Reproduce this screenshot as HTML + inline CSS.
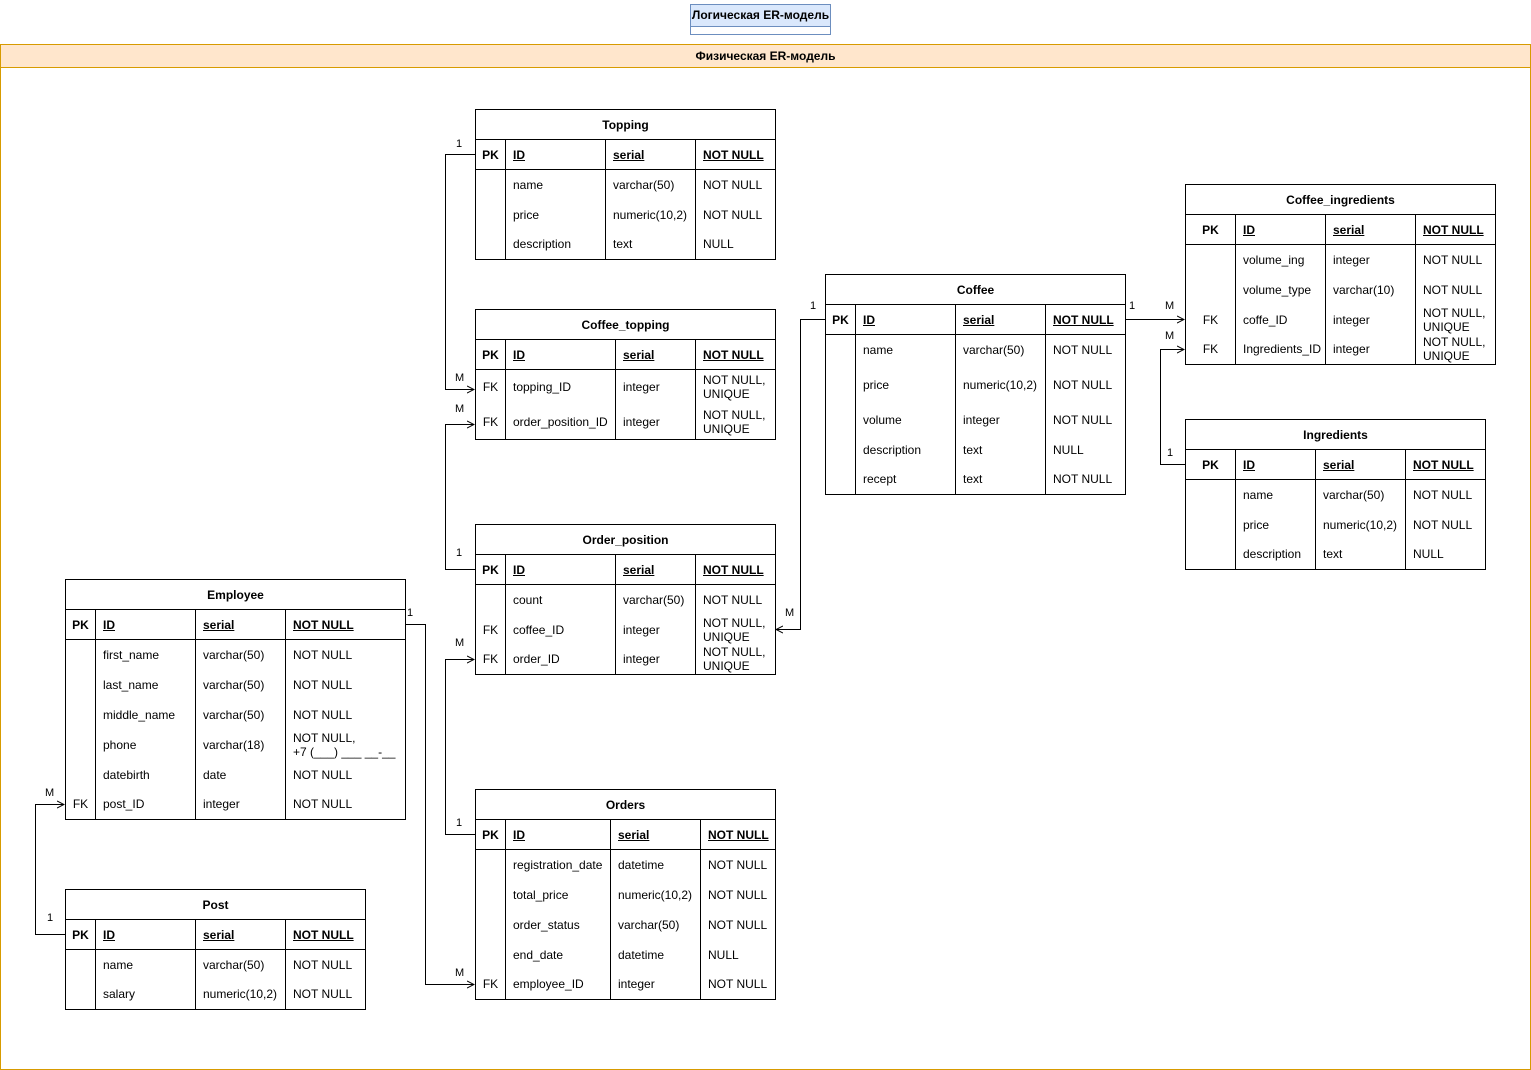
<!DOCTYPE html>
<html><head><meta charset="utf-8"><style>
body{margin:0;width:1531px;height:1070px;position:relative;background:#fff;font-family:"Liberation Sans",Arial,sans-serif;font-size:12px;color:#000;overflow:hidden}
.abs{position:absolute}
table{position:absolute;border-collapse:collapse;table-layout:fixed;border:1px solid #000;background:#fff}
td{padding:0 0 0 7px;white-space:nowrap;line-height:14px;vertical-align:middle;overflow:hidden}
td+td{border-left:1px solid #000}
td.k{text-align:center;padding:0}
tr.t td{text-align:center;font-weight:bold;border-bottom:1px solid #000;padding:0}
tr.p td{border-bottom:1px solid #000;font-weight:bold}
tr.p td u{font-weight:bold}
.lbl{position:absolute;font-size:11px}
</style></head><body>
<div class="abs" style="left:690px;top:4px;width:139px;height:29px;border:1px solid #6c8ebf;background:#fff"></div>
<div class="abs" style="left:690px;top:4px;width:139px;height:21px;border:1px solid #6c8ebf;background:#dae8fc;text-align:center;line-height:21px;font-weight:bold">Логическая ER-модель</div>
<div class="abs" style="left:0;top:44px;width:1529px;height:1024px;border:1px solid #d79b00"></div>
<div class="abs" style="left:0;top:44px;width:1529px;height:22px;border:1px solid #d79b00;background:#ffe6cc;text-align:center;line-height:22px;font-weight:bold">Физическая ER-модель</div>

<svg class="abs" style="left:0;top:0" width="1531" height="1070">
<defs><marker id="a" markerWidth="8" markerHeight="8" refX="7" refY="4" orient="auto" markerUnits="userSpaceOnUse"><path d="M0,0.5 L7,4 L0,7.5" fill="none" stroke="#000" stroke-width="1"/></marker></defs>
<g fill="none" stroke="#000" stroke-width="1">
<polyline points="475,154.5 445.5,154.5 445.5,389.5 474,389.5" marker-end="url(#a)"/>
<polyline points="475,569.5 445.5,569.5 445.5,424.5 474,424.5" marker-end="url(#a)"/>
<polyline points="825,319.5 800.5,319.5 800.5,629.5 776,629.5" marker-end="url(#a)"/>
<polyline points="1125,319.5 1184,319.5" marker-end="url(#a)"/>
<polyline points="1185,464.5 1160.5,464.5 1160.5,349.5 1184,349.5" marker-end="url(#a)"/>
<polyline points="405,624.5 425.5,624.5 425.5,984.5 474,984.5" marker-end="url(#a)"/>
<polyline points="475,834.5 445.5,834.5 445.5,659.5 474,659.5" marker-end="url(#a)"/>
<polyline points="65,934.5 35.5,934.5 35.5,804.5 64,804.5" marker-end="url(#a)"/>
</g></svg>
<div class="lbl" style="left:456px;top:138px">1</div><div class="lbl" style="left:455px;top:372px">M</div>
<div class="lbl" style="left:456px;top:547px">1</div><div class="lbl" style="left:455px;top:403px">M</div>
<div class="lbl" style="left:810px;top:300px">1</div><div class="lbl" style="left:785px;top:607px">M</div>
<div class="lbl" style="left:1129px;top:300px">1</div><div class="lbl" style="left:1165px;top:300px">M</div>
<div class="lbl" style="left:1167px;top:447px">1</div><div class="lbl" style="left:1165px;top:330px">M</div>
<div class="lbl" style="left:407px;top:607px">1</div><div class="lbl" style="left:455px;top:967px">M</div>
<div class="lbl" style="left:456px;top:817px">1</div><div class="lbl" style="left:455px;top:637px">M</div>
<div class="lbl" style="left:47px;top:912px">1</div><div class="lbl" style="left:45px;top:787px">M</div>

<table style="left:475px;top:109px;width:301px"><colgroup><col width="30"><col width="100"><col width="90"><col width="80"></colgroup>
<tr class="t" style="height:30px"><td colspan="4">Topping</td></tr>
<tr class="p" style="height:30px"><td class="k">PK</td><td><u>ID</u></td><td><u>serial</u></td><td><u>NOT NULL</u></td></tr>
<tr style="height:30px"><td class="k"></td><td>name</td><td>varchar(50)</td><td>NOT NULL</td></tr>
<tr style="height:30px"><td class="k"></td><td>price</td><td>numeric(10,2)</td><td>NOT NULL</td></tr>
<tr style="height:30px"><td class="k"></td><td>description</td><td>text</td><td>NULL</td></tr></table>

<table style="left:475px;top:309px;width:301px"><colgroup><col width="30"><col width="110"><col width="80"><col width="80"></colgroup>
<tr class="t" style="height:30px"><td colspan="4">Coffee_topping</td></tr>
<tr class="p" style="height:30px"><td class="k">PK</td><td><u>ID</u></td><td><u>serial</u></td><td><u>NOT NULL</u></td></tr>
<tr style="height:35px"><td class="k">FK</td><td>topping_ID</td><td>integer</td><td>NOT NULL,<br>UNIQUE</td></tr>
<tr style="height:35px"><td class="k">FK</td><td>order_position_ID</td><td>integer</td><td>NOT NULL,<br>UNIQUE</td></tr></table>

<table style="left:475px;top:524px;width:301px"><colgroup><col width="30"><col width="110"><col width="80"><col width="80"></colgroup>
<tr class="t" style="height:30px"><td colspan="4">Order_position</td></tr>
<tr class="p" style="height:30px"><td class="k">PK</td><td><u>ID</u></td><td><u>serial</u></td><td><u>NOT NULL</u></td></tr>
<tr style="height:30px"><td class="k"></td><td>count</td><td>varchar(50)</td><td>NOT NULL</td></tr>
<tr style="height:30px"><td class="k">FK</td><td>coffee_ID</td><td>integer</td><td>NOT NULL,<br>UNIQUE</td></tr>
<tr style="height:30px"><td class="k">FK</td><td>order_ID</td><td>integer</td><td>NOT NULL,<br>UNIQUE</td></tr></table>

<table style="left:475px;top:789px;width:301px"><colgroup><col width="30"><col width="105"><col width="90"><col width="75"></colgroup>
<tr class="t" style="height:30px"><td colspan="4">Orders</td></tr>
<tr class="p" style="height:30px"><td class="k">PK</td><td><u>ID</u></td><td><u>serial</u></td><td><u>NOT NULL</u></td></tr>
<tr style="height:30px"><td class="k"></td><td>registration_date</td><td>datetime</td><td>NOT NULL</td></tr>
<tr style="height:30px"><td class="k"></td><td>total_price</td><td>numeric(10,2)</td><td>NOT NULL</td></tr>
<tr style="height:30px"><td class="k"></td><td>order_status</td><td>varchar(50)</td><td>NOT NULL</td></tr>
<tr style="height:30px"><td class="k"></td><td>end_date</td><td>datetime</td><td>NULL</td></tr>
<tr style="height:30px"><td class="k">FK</td><td>employee_ID</td><td>integer</td><td>NOT NULL</td></tr></table>

<table style="left:65px;top:579px;width:341px"><colgroup><col width="30"><col width="100"><col width="90"><col width="120"></colgroup>
<tr class="t" style="height:30px"><td colspan="4">Employee</td></tr>
<tr class="p" style="height:30px"><td class="k">PK</td><td><u>ID</u></td><td><u>serial</u></td><td><u>NOT NULL</u></td></tr>
<tr style="height:30px"><td class="k"></td><td>first_name</td><td>varchar(50)</td><td>NOT NULL</td></tr>
<tr style="height:30px"><td class="k"></td><td>last_name</td><td>varchar(50)</td><td>NOT NULL</td></tr>
<tr style="height:30px"><td class="k"></td><td>middle_name</td><td>varchar(50)</td><td>NOT NULL</td></tr>
<tr style="height:30px"><td class="k"></td><td>phone</td><td>varchar(18)</td><td>NOT NULL,<br>+7 (___) ___ __-__</td></tr>
<tr style="height:30px"><td class="k"></td><td>datebirth</td><td>date</td><td>NOT NULL</td></tr>
<tr style="height:30px"><td class="k">FK</td><td>post_ID</td><td>integer</td><td>NOT NULL</td></tr></table>

<table style="left:65px;top:889px;width:301px"><colgroup><col width="30"><col width="100"><col width="90"><col width="80"></colgroup>
<tr class="t" style="height:30px"><td colspan="4">Post</td></tr>
<tr class="p" style="height:30px"><td class="k">PK</td><td><u>ID</u></td><td><u>serial</u></td><td><u>NOT NULL</u></td></tr>
<tr style="height:30px"><td class="k"></td><td>name</td><td>varchar(50)</td><td>NOT NULL</td></tr>
<tr style="height:30px"><td class="k"></td><td>salary</td><td>numeric(10,2)</td><td>NOT NULL</td></tr></table>

<table style="left:825px;top:274px;width:301px"><colgroup><col width="30"><col width="100"><col width="90"><col width="80"></colgroup>
<tr class="t" style="height:30px"><td colspan="4">Coffee</td></tr>
<tr class="p" style="height:30px"><td class="k">PK</td><td><u>ID</u></td><td><u>serial</u></td><td><u>NOT NULL</u></td></tr>
<tr style="height:30px"><td class="k"></td><td>name</td><td>varchar(50)</td><td>NOT NULL</td></tr>
<tr style="height:40px"><td class="k"></td><td>price</td><td>numeric(10,2)</td><td>NOT NULL</td></tr>
<tr style="height:30px"><td class="k"></td><td>volume</td><td>integer</td><td>NOT NULL</td></tr>
<tr style="height:30px"><td class="k"></td><td>description</td><td>text</td><td>NULL</td></tr>
<tr style="height:30px"><td class="k"></td><td>recept</td><td>text</td><td>NOT NULL</td></tr></table>

<table style="left:1185px;top:184px;width:311px"><colgroup><col width="50"><col width="90"><col width="90"><col width="80"></colgroup>
<tr class="t" style="height:30px"><td colspan="4">Coffee_ingredients</td></tr>
<tr class="p" style="height:30px"><td class="k">PK</td><td><u>ID</u></td><td><u>serial</u></td><td><u>NOT NULL</u></td></tr>
<tr style="height:30px"><td class="k"></td><td>volume_ing</td><td>integer</td><td>NOT NULL</td></tr>
<tr style="height:30px"><td class="k"></td><td>volume_type</td><td>varchar(10)</td><td>NOT NULL</td></tr>
<tr style="height:30px"><td class="k">FK</td><td>coffe_ID</td><td>integer</td><td>NOT NULL,<br>UNIQUE</td></tr>
<tr style="height:30px"><td class="k">FK</td><td>Ingredients_ID</td><td>integer</td><td>NOT NULL,<br>UNIQUE</td></tr></table>

<table style="left:1185px;top:419px;width:301px"><colgroup><col width="50"><col width="80"><col width="90"><col width="80"></colgroup>
<tr class="t" style="height:30px"><td colspan="4">Ingredients</td></tr>
<tr class="p" style="height:30px"><td class="k">PK</td><td><u>ID</u></td><td><u>serial</u></td><td><u>NOT NULL</u></td></tr>
<tr style="height:30px"><td class="k"></td><td>name</td><td>varchar(50)</td><td>NOT NULL</td></tr>
<tr style="height:30px"><td class="k"></td><td>price</td><td>numeric(10,2)</td><td>NOT NULL</td></tr>
<tr style="height:30px"><td class="k"></td><td>description</td><td>text</td><td>NULL</td></tr></table>
</body></html>
